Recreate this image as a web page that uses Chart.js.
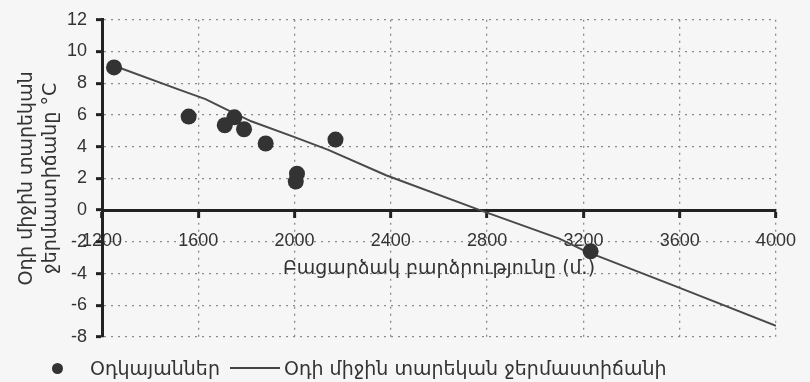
<!DOCTYPE html>
<html>
<head>
<meta charset="utf-8">
<script src="https://cdn.jsdelivr.net/npm/chart.js@4.4.0/dist/chart.umd.min.js"></script>
<style>
  body { margin: 0; background: #f6f6f6; }
  #wrap { position: relative; width: 810px; height: 382px; }
  #legend {
    position: absolute; left: 0; top: 356px; height: 24px;
    display: flex; align-items: center;
    font-family: "DejaVu Sans", sans-serif; font-size: 19px; color: #333;
  }
  .dot { display: inline-block; width: 11px; height: 11px; border-radius: 50%; background: #333; margin-left: 52px; margin-right: 27px; }
  .bar { display: inline-block; width: 50px; height: 2px; background: #444; margin-left: 10px; margin-right: 4px; }
</style>
</head>
<body>
<div id="wrap">
  <canvas id="chart" width="810" height="382"></canvas>
  <div id="legend"></div>
</div>
<script>
// stations: altitude (m) and mean annual air temperature (°C)
const stationAltitudes = [1250, 1560, 1710, 1750, 1790, 1880, 2010, 2005, 2170, 3230];
const stationTemps = [9.0, 5.9, 5.35, 5.85, 5.1, 4.2, 2.3, 1.8, 4.45, -2.6];

// trend line
const trendAltitudes = [1250, 1520, 1630, 1710, 1820, 2000, 2140, 2380, 2770, 3100, 3210, 3600, 4000];
const trendTemps = [9.1, 7.6, 7.0, 6.4, 5.6, 4.6, 3.8, 2.2, 0, -1.8, -2.6, -4.9, -7.3];

const xTicks = [1200, 1600, 2000, 2400, 2800, 3200, 3600, 4000];
const yTicks = [-8, -6, -4, -2, 0, 2, 4, 6, 8, 10, 12];

const seriesLabels = ["Օդկայաններ", "Օդի միջին տարեկան ջերմաստիճանի"];
const xTitle = "Բացարձակ բարձրությունը (մ.)";
const yTitle = ["Օդի միջին տարեկան", "ջերմաստիճանը °C"];

const NUM_FONT = '"Liberation Sans", sans-serif';
const ARM_FONT = '"DejaVu Sans", sans-serif';
const gridColor = "#8a8a8a";

const stations = stationAltitudes.map((x, i) => ({ x: x, y: stationTemps[i] }));
const trend = trendAltitudes.map((x, i) => ({ x: x, y: trendTemps[i] }));

new Chart(document.getElementById("chart"), {
  type: "scatter",
  data: {
    datasets: [
      {
        label: seriesLabels[0],
        data: stations,
        backgroundColor: "#333",
        borderWidth: 0,
        pointRadius: 8,
        pointHoverRadius: 8
      },
      {
        type: "line",
        label: seriesLabels[1],
        data: trend,
        borderColor: "#4a4a4a",
        borderWidth: 2,
        pointRadius: 0,
        tension: 0,
        fill: false
      }
    ]
  },
  options: {
    responsive: false,
    animation: false,
    layout: { padding: { left: 0, top: 17, right: 24, bottom: 45 } },
    plugins: { legend: { display: false }, tooltip: { enabled: false } },
    scales: {
      x: {
        type: "linear",
        position: { y: 0 },
        min: 1200,
        max: 4000,
        afterBuildTicks: (s) => { s.ticks = xTicks.map(v => ({ value: v })); },
        afterFit: (s) => { s.height = 0; },
        ticks: {
          color: "#333", font: { family: NUM_FONT, size: 18 }, padding: 14,
          callback: (v) => String(v)
        },
        grid: { color: gridColor, lineWidth: 1.3, tickLength: 6, tickColor: "#222", tickWidth: 3 },
        border: { display: true, color: "#222", width: 3, dash: [2, 5] },
        title: {
          display: true, text: xTitle, color: "#333",
          font: { family: ARM_FONT, size: 19 }, padding: { top: 0, bottom: -70 }
        }
      },
      y: {
        type: "linear",
        min: -8,
        max: 12,
        afterBuildTicks: (s) => { s.ticks = yTicks.map(v => ({ value: v })); },
        afterFit: (s) => { s.width = 102; },
        ticks: { color: "#333", font: { family: NUM_FONT, size: 18 }, padding: 9 },
        grid: { color: gridColor, lineWidth: 1.3, tickLength: 6, tickColor: "#222", tickWidth: 3 },
        border: { display: true, color: "#222", width: 3, dash: [2, 5] },
        title: {
          display: true, text: yTitle, color: "#333",
          font: { family: ARM_FONT, size: 19, lineHeight: 1.26 }, padding: { top: 15, bottom: 0 }
        }
      }
    }
  }
});

// legend below the plot
const legend = document.getElementById("legend");
legend.innerHTML =
  '<span class="dot"></span><span>' + seriesLabels[0] + '</span>' +
  '<span class="bar"></span><span>' + seriesLabels[1] + '</span>';
</script>
</body>
</html>
